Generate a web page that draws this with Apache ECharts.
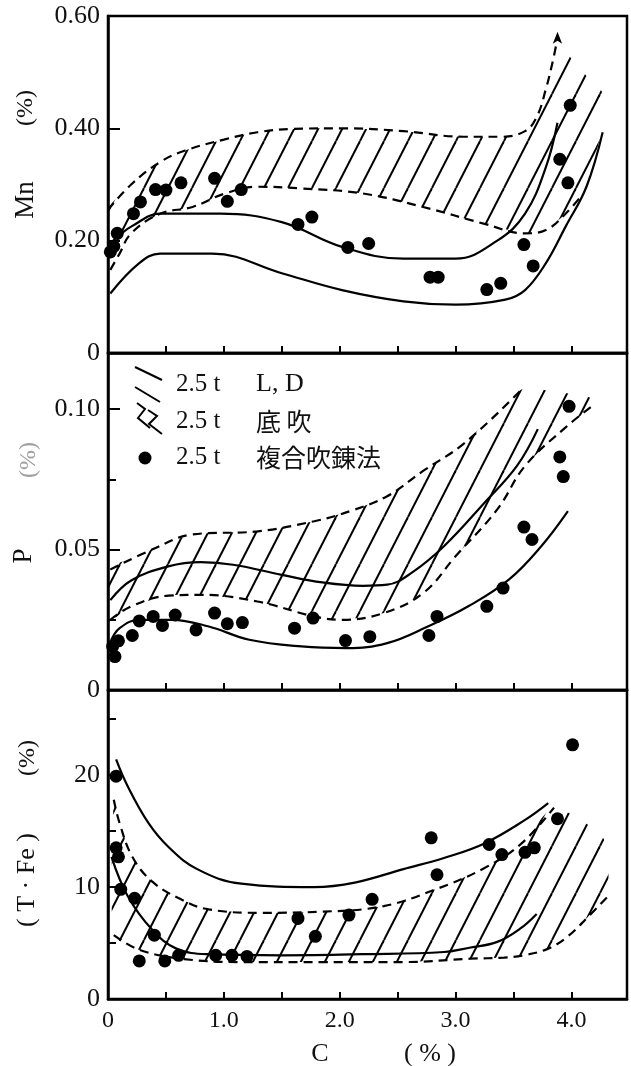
<!DOCTYPE html>
<html><head><meta charset="utf-8">
<script src="https://cdn.jsdelivr.net/npm/echarts@6/dist/echarts.min.js"></script>
<style>html,body{margin:0;padding:0;background:#fff}#c{width:631px;height:1066px}</style>
</head><body><div id="c"></div>
<script>
// ---------- X axis ----------
const xTickValues = [0.5, 1.0, 1.5, 2.0, 2.5, 3.0, 3.5, 4.0];
const xLabelValues = [0, 1, 2, 3, 4];

// ---------- Mn panel ----------
const mnLabelValues = [0, 0.2, 0.4, 0.6];
const mnDotC = [0.02,0.05,0.08,0.22,0.28,0.41,0.50,0.63,0.92,1.03,1.15,1.64,1.76,2.07,2.25,2.78,2.85,3.27,3.39,3.59,3.67,3.90,3.97,3.99];
const mnDotV = [0.18,0.19,0.213,0.248,0.269,0.291,0.29,0.303,0.311,0.27,0.291,0.229,0.242,0.188,0.195,0.135,0.135,0.113,0.124,0.193,0.155,0.345,0.303,0.441];
const mnSolidUpC = [0.02,0.1,0.2,0.45,0.97,1.5,2.02,2.55,3.0,3.36,3.6,3.78,3.88];
const mnSolidUpV = [0.195,0.21,0.225,0.248,0.248,0.233,0.189,0.168,0.168,0.2,0.248,0.331,0.41];
const mnSolidLoC = [0.02,0.27,0.45,0.9,1.5,2.02,2.55,3.0,3.43,3.6,3.78,3.95,4.13,4.27];
const mnSolidLoV = [0.106,0.16,0.177,0.177,0.142,0.112,0.092,0.086,0.095,0.112,0.16,0.225,0.296,0.393];
const mnDashUpC = [0,0.2,0.45,0.66,1.0,1.29,1.6,2.02,2.55,3.07,3.4,3.6,3.7,3.78,3.84,3.87];
const mnDashUpV = [0.255,0.3,0.34,0.36,0.38,0.393,0.399,0.4,0.395,0.385,0.385,0.395,0.42,0.47,0.52,0.55];
const mnDashLoC = [0.02,0.1,0.2,0.45,0.73,1.01,1.29,1.67,2.2,2.72,3.25,3.6,3.78,3.95,4.09];
const mnDashLoV = [0.148,0.177,0.213,0.248,0.26,0.284,0.296,0.293,0.284,0.26,0.23,0.213,0.219,0.248,0.281];
const mnArrowC = [3.88];
const mnArrowV = [0.572];
const mnHatchUpC = [0,0.2,0.45,0.66,1.0,1.29,1.6,2.02,2.55,3.07,3.4,3.6,3.7,3.78,3.84,3.9,4.1,4.3];
const mnHatchUpV = [0.255,0.3,0.34,0.36,0.38,0.393,0.399,0.4,0.395,0.385,0.385,0.395,0.42,0.47,0.52,0.545,0.5,0.455];
const mnHatchLoC = [0.02,0.1,0.2,0.45,0.73,1.01,1.29,1.67,2.2,2.72,3.25,3.6,3.78,3.95,4.1,4.28];
const mnHatchLoV = [0.148,0.177,0.213,0.248,0.26,0.284,0.296,0.293,0.284,0.26,0.23,0.213,0.219,0.248,0.28,0.41];

// ---------- P panel ----------
const pLabelValues = [0, 0.05, 0.10];
const pMajorTicks = [0.05, 0.10];
const pMinorTicks = [0.025, 0.075];
const pDotC = [0.04,0.06,0.09,0.21,0.27,0.39,0.47,0.58,0.76,0.92,1.03,1.16,1.61,1.77,2.05,2.26,2.77,2.84,3.27,3.41,3.59,3.66,3.9,3.93,3.98];
const pDotV = [0.0155,0.0119,0.0175,0.0194,0.0246,0.0262,0.023,0.0267,0.0214,0.0274,0.0236,0.024,0.022,0.0256,0.0176,0.019,0.0194,0.0262,0.0298,0.0363,0.058,0.0536,0.083,0.076,0.101];
const pSolidLoC = [0.02,0.1,0.27,0.55,0.87,1.22,1.67,2.06,2.41,2.76,3.11,3.46,3.74,3.97];
const pSolidLoV = [0.017,0.022,0.025,0.025,0.0226,0.0179,0.0155,0.0149,0.0167,0.0226,0.0298,0.0393,0.0512,0.0637];
const pSolidUpC = [0.02,0.2,0.52,0.8,1.08,1.5,1.85,2.2,2.41,2.62,2.9,3.25,3.53,3.71];
const pSolidUpV = [0.032,0.039,0.044,0.0455,0.0446,0.041,0.0383,0.0371,0.0375,0.0417,0.0512,0.0667,0.0798,0.0929];
const pDashUpC = [0.02,0.38,0.73,1.29,1.78,2.09,2.41,2.72,3.08,3.57];
const pDashUpV = [0.0429,0.05,0.0554,0.0565,0.0601,0.0637,0.069,0.078,0.088,0.107];
const pDashLoC = [0.02,0.2,0.52,0.8,1.29,1.78,2.02,2.38,2.72,3.0,3.36,3.6,3.95,4.2];
const pDashLoV = [0.025,0.0298,0.0336,0.0339,0.0315,0.0262,0.025,0.0274,0.0345,0.0476,0.0643,0.0798,0.0935,0.1018];
const pHatchUpC = [0.02,0.38,0.73,1.29,1.78,2.09,2.41,2.72,3.08,3.57,3.9,4.17];
const pHatchUpV = [0.0429,0.05,0.0554,0.0565,0.0601,0.0637,0.069,0.078,0.088,0.107,0.106,0.104];
const pHatchLoC = pDashLoC;
const pHatchLoV = pDashLoV;

// ---------- T.Fe panel ----------
const feLabelValues = [0, 10, 20];
const feMajorTicks = [10, 20];
const feMinorTicks = [5, 15, 25];
const feDotC = [0.07,0.07,0.09,0.11,0.23,0.27,0.4,0.49,0.61,0.93,1.07,1.2,1.64,1.79,2.08,2.28,2.79,2.84,3.29,3.4,3.6,3.68,3.88,4.01];
const feDotV = [19.9,13.5,12.7,9.8,9.0,3.4,5.7,3.4,3.9,3.9,3.9,3.8,7.2,5.6,7.5,8.9,14.4,11.1,13.8,12.9,13.1,13.5,16.1,22.7];
const feSolidUpC = [0.07,0.17,0.35,0.52,0.77,1.15,1.78,2.13,2.55,2.9,3.25,3.6,3.8];
const feSolidUpV = [21.4,19.0,15.7,13.6,11.6,10.3,10.0,10.4,11.6,12.6,13.9,16.0,17.5];
const feSolidLoC = [0.03,0.17,0.38,0.59,0.87,1.5,2.2,2.9,3.13,3.36,3.56,3.7];
const feSolidLoV = [12.7,9.2,6.2,4.5,4.0,3.9,4.0,4.2,4.6,5.1,6.3,7.6];
const feDashUpC = [0.05,0.1,0.21,0.38,0.63,0.87,1.33,1.85,2.38,2.83,3.25,3.57,3.85];
const feDashUpV = [17.8,15.7,12.7,10.5,8.9,8.0,7.7,7.8,8.3,9.8,11.7,13.9,17.1];
const feDashLoC = [0.05,0.27,0.63,1.15,1.85,2.55,3.13,3.42,3.59,3.8,3.97,4.14,4.31];
const feDashLoV = [5.7,4.4,3.6,3.3,3.3,3.3,3.6,3.7,3.9,4.5,5.6,7.3,9.1];
const feHatchUpC = [0.05,0.1,0.21,0.38,0.63,0.87,1.33,1.85,2.38,2.83,3.25,3.57,3.85,4.28];
const feHatchUpV = [17.8,15.7,12.7,10.5,8.9,8.0,7.7,7.8,8.3,9.8,11.7,13.9,17.1,14.3];
const feHatchLoC = feDashLoC;
const feHatchLoV = feDashLoV;

// ---------- texts ----------
const legendRows = [
  {num: '2.5 t', label: 'L, D'},
  {num: '2.5 t', label: '底 吹'},
  {num: '2.5 t', label: '複合吹錬法'}
];

const SERIF = "'Liberation Serif','Noto Sans CJK JP',serif";
const CJK = "'Noto Sans CJK JP','Liberation Serif',sans-serif";

function makeHatch() {
  const w = 24, h = Math.round(24 * Math.tan(63 * Math.PI / 180));
  const cv = document.createElement('canvas');
  cv.width = w; cv.height = h;
  const ctx = cv.getContext('2d');
  ctx.strokeStyle = '#000'; ctx.lineWidth = 2;
  [-w, 0, w].forEach(function (dx) {
    ctx.beginPath(); ctx.moveTo(dx, h); ctx.lineTo(dx + w, 0); ctx.stroke();
  });
  return cv;
}
const hatchCanvas = makeHatch();

function pairs(cs, vs) { return cs.map(function (c, i) { return [c, vs[i]]; }); }

function lineS(gi, cs, vs, dashed) {
  return {type: 'line', xAxisIndex: gi, yAxisIndex: gi * 2, data: pairs(cs, vs),
    smooth: 0.4, symbol: 'none', silent: true, z: 3,
    lineStyle: {color: '#000', width: 2.2, type: dashed ? [9, 6] : 'solid'}};
}
function dotS(gi, cs, vs) {
  return {type: 'scatter', xAxisIndex: gi, yAxisIndex: gi * 2, data: pairs(cs, vs),
    symbolSize: 13, itemStyle: {color: '#000', opacity: 1}, silent: true, z: 4};
}
function hatchS(gi, upC, upV, loC, loV) {
  return {type: 'custom', xAxisIndex: gi, yAxisIndex: gi * 2, data: [[upC[0], upV[0]]],
    silent: true, z: 1,
    renderItem: function (params, api) {
      const pts = [];
      for (let i = 0; i < upC.length; i++) pts.push(api.coord([upC[i], upV[i]]));
      for (let i = loC.length - 1; i >= 0; i--) pts.push(api.coord([loC[i], loV[i]]));
      return {type: 'polygon', shape: {points: pts, smooth: 0.2},
        style: {fill: {image: hatchCanvas, repeat: 'repeat'}, stroke: null}};
    }};
}

const grids = [
  {left: 108, top: 16, width: 519, height: 337},
  {left: 108, top: 353, width: 519, height: 337},
  {left: 108, top: 690, width: 519, height: 309}
].map(function (g) { return Object.assign(g, {show: true, borderColor: '#000', borderWidth: 2.5}); });

function xAx(gi) {
  return {type: 'value', gridIndex: gi, min: 0, max: 4.48, interval: 0.5,
    axisLine: {show: true, lineStyle: {color: '#000', width: 2.5}},
    axisTick: {show: true, inside: true, length: 7, customValues: xTickValues, lineStyle: {color: '#000', width: 2}},
    axisLabel: {show: gi === 2, customValues: xLabelValues, margin: 10, color: '#111',
      fontFamily: SERIF, fontSize: 24,
      formatter: function (v) { return v === 0 ? '0' : v.toFixed(1); }},
    splitLine: {show: false}};
}
function yMajor(gi, min, max, labels, ticks, fmt) {
  return {type: 'value', gridIndex: gi, position: 'left', min: min, max: max,
    axisLine: {show: true, lineStyle: {color: '#000', width: 2.5}},
    axisTick: {show: true, inside: true, length: 12, customValues: ticks, lineStyle: {color: '#000', width: 2}},
    axisLabel: {show: true, customValues: labels, margin: 8, color: '#111',
      fontFamily: SERIF, fontSize: 26, formatter: fmt},
    splitLine: {show: false}};
}
function yMinor(gi, min, max, ticks) {
  return {type: 'value', gridIndex: gi, position: 'left', offset: 0, min: min, max: max,
    axisLine: {show: false, onZero: false},
    axisTick: {show: ticks.length > 0, inside: true, length: 8, customValues: ticks.length ? ticks : [min], lineStyle: {color: '#000', width: 2}},
    axisLabel: {show: false}, splitLine: {show: false}};
}
const fmt2 = function (v) { return v === 0 ? '0' : v.toFixed(2); };

function txt(x, y, text, size, opts) {
  return Object.assign({type: 'text', x: x, y: y, silent: true,
    style: Object.assign({text: text, fontFamily: SERIF, fontSize: size, fill: '#111',
      align: 'center', verticalAlign: 'middle'}, (opts && opts.style) || {})},
    (opts && opts.el) || {});
}
const ROT = {el: {rotation: Math.PI / 2}};

const graphics = [
  // y-axis titles
  txt(26, 200, 'Mn', 27, ROT),
  txt(26, 108, '(%)', 24, ROT),
  txt(24, 556, 'P', 27, ROT),
  txt(29, 460, '(%)', 24, {el: {rotation: Math.PI / 2}, style: {fill: '#a0a0a0'}}),
  txt(27, 880, '( T · Fe )', 26, ROT),
  txt(28, 758, '(%)', 24, ROT),
  // x title
  txt(320, 1054, 'C', 26),
  txt(430, 1054, '( % )', 26),
  // legend glyphs
  {type: 'line', silent: true, shape: {x1: 135, y1: 367, x2: 162, y2: 380}, style: {stroke: '#000', lineWidth: 2}},
  {type: 'line', silent: true, shape: {x1: 135, y1: 387, x2: 160, y2: 402}, style: {stroke: '#000', lineWidth: 2}},
  {type: 'polyline', silent: true, shape: {points: [[137, 403], [145, 409], [138, 418], [150, 428]]}, style: {stroke: '#000', lineWidth: 2, fill: null}},
  {type: 'polyline', silent: true, shape: {points: [[148, 410], [157, 416], [149, 424], [162, 434]]}, style: {stroke: '#000', lineWidth: 2, fill: null}},
  {type: 'circle', silent: true, shape: {cx: 145, cy: 458, r: 6.5}, style: {fill: '#000'}}
];
const rowY = [384, 421, 457];
legendRows.forEach(function (r, i) {
  graphics.push(txt(176, rowY[i], r.num, 25, {style: {align: 'left'}}));
  graphics.push(txt(256, rowY[i], r.label, i === 0 ? 26 : 25,
    {style: {align: 'left', fontFamily: i === 0 ? SERIF : CJK}}));
});

const option = {
  animation: false,
  backgroundColor: '#fff',
  grid: grids,
  xAxis: [xAx(0), xAx(1), xAx(2)],
  yAxis: [
    yMajor(0, 0, 0.6, mnLabelValues, [0.2, 0.4], fmt2), yMinor(0, 0, 0.6, []),
    yMajor(1, 0, 0.12, pLabelValues, pMajorTicks, fmt2), yMinor(1, 0, 0.12, pMinorTicks),
    yMajor(2, 0, 27.6, feLabelValues, feMajorTicks, function (v) { return String(v); }), yMinor(2, 0, 27.6, feMinorTicks)
  ],
  graphic: graphics,
  series: [
    hatchS(0, mnHatchUpC, mnHatchUpV, mnHatchLoC, mnHatchLoV),
    lineS(0, mnSolidUpC, mnSolidUpV, false),
    lineS(0, mnSolidLoC, mnSolidLoV, false),
    lineS(0, mnDashUpC, mnDashUpV, true),
    lineS(0, mnDashLoC, mnDashLoV, true),
    {type: 'scatter', xAxisIndex: 0, yAxisIndex: 0, data: pairs(mnArrowC, mnArrowV),
      symbol: 'arrow', symbolSize: [7, 12], itemStyle: {color: '#000', opacity: 1}, silent: true, z: 4},
    dotS(0, mnDotC, mnDotV),

    hatchS(1, pHatchUpC, pHatchUpV, pHatchLoC, pHatchLoV),
    lineS(1, pSolidUpC, pSolidUpV, false),
    lineS(1, pSolidLoC, pSolidLoV, false),
    lineS(1, pDashUpC, pDashUpV, true),
    lineS(1, pDashLoC, pDashLoV, true),
    dotS(1, pDotC, pDotV),

    hatchS(2, feHatchUpC, feHatchUpV, feHatchLoC, feHatchLoV),
    lineS(2, feSolidUpC, feSolidUpV, false),
    lineS(2, feSolidLoC, feSolidLoV, false),
    lineS(2, feDashUpC, feDashUpV, true),
    lineS(2, feDashLoC, feDashLoV, true),
    dotS(2, feDotC, feDotV)
  ]
};
const chart = echarts.init(document.getElementById('c'), null, {renderer: 'canvas'});
chart.setOption(option);
</script></body></html>
